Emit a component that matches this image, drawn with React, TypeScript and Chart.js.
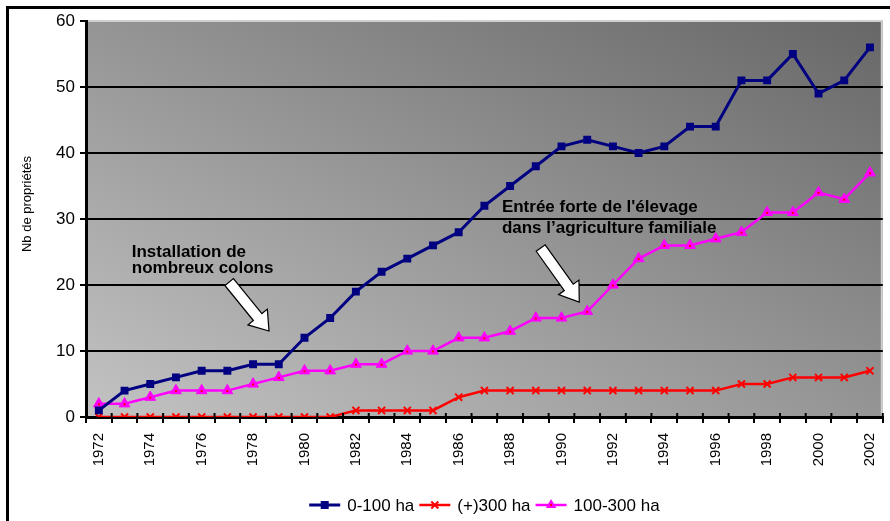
import React, { useEffect, useRef } from 'react';
import { Chart, registerables } from 'chart.js';

Chart.register(...registerables);

const years = ['1972','1973','1974','1975','1976','1977','1978','1979','1980','1981','1982','1983','1984','1985','1986','1987','1988','1989','1990','1991','1992','1993','1994','1995','1996','1997','1998','1999','2000','2001','2002'];
const small = [1,4,5,6,7,7,8,8,12,15,19,22,24,26,28,32,35,38,41,42,41,40,41,44,44,51,51,55,49,51,56];
const large = [0,0,0,0,0,0,0,0,0,0,1,1,1,1,3,4,4,4,4,4,4,4,4,4,4,5,5,6,6,6,7];
const medium = [2,2,3,4,4,4,5,6,7,7,8,8,10,10,12,12,13,15,15,16,20,24,26,26,27,28,31,31,34,33,37];
const seriesNames = ['0-100 ha', '(+)300 ha', '100-300 ha'];
const yTicks = [0, 10, 20, 30, 40, 50, 60];
const yTitle = 'Nb de propriétés';

// annotations anchored in data coordinates (category index, value)
const note1 = { lines: ['Installation de', 'nombreux colons'], x: 1.28, y: [24.24, 21.82] };
const arrow1 = { from: [5.07, 20.45], to: [6.62, 13.03] };
const note2 = { lines: ['Entrée forte de l\'élevage', 'dans l’agriculture familiale'], x: 15.68, y: [31.1, 27.83] };
const arrow2 = { from: [17.19, 25.6], to: [18.69, 17.42] };

const NAVY = '#000080';
const RED = '#FF0000';
const MAGENTA = '#FF00FF';

function drawArrow(ctx: CanvasRenderingContext2D, x1: number, y1: number, x2: number, y2: number) {
  const dx = x2 - x1, dy = y2 - y1;
  const len = Math.hypot(dx, dy);
  const ux = dx / len, uy = dy / len;
  const nx = -uy, ny = ux;
  const sw = 5.5, hw = 12.5, hl = 18;
  const bx = x2 - ux * hl, by = y2 - uy * hl;
  ctx.save();
  ctx.beginPath();
  ctx.moveTo(x1 + nx * sw, y1 + ny * sw);
  ctx.lineTo(bx + nx * sw, by + ny * sw);
  ctx.lineTo(bx + nx * hw, by + ny * hw);
  ctx.lineTo(x2, y2);
  ctx.lineTo(bx - nx * hw, by - ny * hw);
  ctx.lineTo(bx - nx * sw, by - ny * sw);
  ctx.lineTo(x1 - nx * sw, y1 - ny * sw);
  ctx.closePath();
  ctx.fillStyle = '#ffffff';
  ctx.fill();
  ctx.lineWidth = 1.2;
  ctx.strokeStyle = '#000';
  ctx.stroke();
  ctx.restore();
}

function drawMarker(ctx: CanvasRenderingContext2D, kind: string, x: number, y: number, color: string) {
  ctx.save();
  ctx.fillStyle = color;
  ctx.strokeStyle = color;
  if (kind === 'rect') {
    ctx.fillRect(x - 4, y - 4, 8, 8);
  } else if (kind === 'crossRot') {
    ctx.lineWidth = 2;
    ctx.beginPath();
    ctx.moveTo(x - 3.5, y - 3.5); ctx.lineTo(x + 3.5, y + 3.5);
    ctx.moveTo(x + 3.5, y - 3.5); ctx.lineTo(x - 3.5, y + 3.5);
    ctx.stroke();
  } else {
    const r = 6;
    ctx.beginPath();
    ctx.moveTo(x, y - r);
    ctx.lineTo(x + r * 0.866, y + r * 0.5);
    ctx.lineTo(x - r * 0.866, y + r * 0.5);
    ctx.closePath();
    ctx.fill();
    ctx.fillStyle = RED;
    ctx.fillRect(x - 1, y - 1, 2, 2);
  }
  ctx.restore();
}

const bgPlugin = {
  id: 'bgGradient',
  beforeDraw(chart: any) {
    const { ctx, chartArea: a } = chart;
    if (!a) return;
    ctx.save();
    ctx.translate(a.left, a.top);
    ctx.scale(a.right - a.left, a.bottom - a.top);
    const g = ctx.createLinearGradient(0, 1, 1, 0);
    g.addColorStop(0, '#c3c3c3');
    g.addColorStop(1, '#676767');
    ctx.fillStyle = g;
    ctx.fillRect(0, 0, 1, 1);
    ctx.restore();
    ctx.save();
    ctx.strokeStyle = '#cfcfcf';
    ctx.lineWidth = 2;
    ctx.beginPath();
    ctx.moveTo(a.left, a.top);
    ctx.lineTo(a.right - 1, a.top);
    ctx.lineTo(a.right - 1, a.bottom);
    ctx.stroke();
    ctx.restore();
  },
};

const overlayPlugin = {
  id: 'overlay',
  afterDatasetsDraw(chart: any) {
    const { ctx, chartArea: a } = chart;
    const xs = chart.scales.x, ys = chart.scales.y;
    const px = (i: number) => xs.getPixelForValue(i);
    const py = (v: number) => ys.getPixelForValue(v);
    // small red centres on triangle markers
    ctx.save();
    ctx.fillStyle = RED;
    chart.getDatasetMeta(2).data.forEach((p: any) => ctx.fillRect(p.x - 1, p.y - 0.5, 2, 2));
    ctx.restore();
    // tick marks crossing the x axis upward
    ctx.save();
    ctx.strokeStyle = '#000';
    ctx.lineWidth = 2;
    const half = (px(1) - px(0)) / 2;
    ctx.beginPath();
    for (let i = 0; i <= years.length; i++) {
      const x = px(i) - half;
      ctx.moveTo(x, a.bottom - 4);
      ctx.lineTo(x, a.bottom);
    }
    ctx.stroke();
    ctx.restore();
    ctx.save();
    ctx.fillStyle = '#000';
    ctx.font = 'bold 17px Arial, "Liberation Sans", sans-serif';
    ctx.textAlign = 'left';
    ctx.textBaseline = 'alphabetic';
    [note1, note2].forEach((n) => {
      n.lines.forEach((t, k) => ctx.fillText(t, px(n.x), py(n.y[k])));
    });
    ctx.restore();
    [arrow1, arrow2].forEach((ar) => {
      drawArrow(ctx, px(ar.from[0]), py(ar.from[1]), px(ar.to[0]), py(ar.to[1]));
    });
  },
  afterDraw(chart: any) {
    const { ctx, chartArea: a } = chart;
    // y title
    ctx.save();
    ctx.translate(27, 204);
    ctx.rotate(-Math.PI / 2);
    ctx.font = '13px Arial, "Liberation Sans", sans-serif';
    ctx.fillStyle = '#000';
    ctx.textAlign = 'center';
    ctx.textBaseline = 'middle';
    ctx.fillText(yTitle, 0, 0);
    ctx.restore();
    // legend
    ctx.save();
    ctx.font = '17px Arial, "Liberation Sans", sans-serif';
    ctx.textBaseline = 'middle';
    ctx.textAlign = 'left';
    const lineLen = 31, gapT = 7, gapI = 5;
    const ds = chart.data.datasets;
    const widths = ds.map((d: any) => lineLen + gapT + ctx.measureText(d.label).width);
    const total = widths.reduce((s: number, w: number) => s + w, 0) + gapI * (ds.length - 1);
    let x = (a.left + a.right) / 2 - total / 2;
    const y = 505;
    ds.forEach((d: any, i: number) => {
      ctx.strokeStyle = d.borderColor;
      ctx.lineWidth = d.borderWidth;
      ctx.beginPath();
      ctx.moveTo(x, y);
      ctx.lineTo(x + lineLen, y);
      ctx.stroke();
      drawMarker(ctx, d.pointStyle, x + lineLen / 2, y, d.borderColor);
      ctx.fillStyle = '#000';
      ctx.fillText(d.label, x + lineLen + gapT, y + 1);
      x += widths[i] + gapI;
    });
    ctx.restore();
  },
};

export default function App() {
  const ref = useRef<HTMLCanvasElement>(null);
  useEffect(() => {
    if (!ref.current) return;
    const chart = new Chart(ref.current, {
      type: 'line',
      data: {
        labels: years,
        datasets: [
          {
            label: seriesNames[0], data: small, borderColor: NAVY, backgroundColor: NAVY,
            borderWidth: 3, pointStyle: 'rect', pointRadius: 5.6, pointBorderWidth: 0, pointBackgroundColor: NAVY, tension: 0,
          },
          {
            label: seriesNames[1], data: large, borderColor: RED, backgroundColor: RED,
            borderWidth: 2.5, pointStyle: 'crossRot', pointRadius: 5, pointBorderWidth: 2, tension: 0,
          },
          {
            label: seriesNames[2], data: medium, borderColor: MAGENTA, backgroundColor: MAGENTA,
            borderWidth: 2.5, pointStyle: 'triangle', pointRadius: 6.2, pointBorderWidth: 1, pointBackgroundColor: MAGENTA, tension: 0,
          },
        ],
      },
      options: {
        animation: false,
        responsive: false,
        events: [],
        layout: { padding: { top: 21, right: 3, left: 0, bottom: 0 } },
        plugins: { legend: { display: false }, tooltip: { enabled: false }, title: { display: false } },
        scales: {
          x: {
            type: 'category',
            offset: true,
            grid: { offset: true, drawOnChartArea: false, drawTicks: true, tickLength: 6, color: '#000', tickColor: '#000', lineWidth: 2 },
            border: { color: '#000', width: 3 },
            ticks: {
              autoSkip: false, minRotation: 90, maxRotation: 90, padding: 10, color: '#000',
              font: { family: 'Arial, "Liberation Sans", sans-serif', size: 15 },
              callback: (_v: any, i: number) => (i % 2 === 0 ? years[i] : ''),
            },
            afterFit: (s: any) => { s.height = 104; s.paddingLeft = 0; s.paddingRight = 0; },
          },
          y: {
            min: yTicks[0],
            max: yTicks[yTicks.length - 1],
            ticks: { stepSize: 10, padding: 5, color: '#000', font: { family: 'Arial, "Liberation Sans", sans-serif', size: 17 } },
            grid: {
              color: (c: any) => (c.tick && c.tick.value === 60 ? 'rgba(0,0,0,0)' : '#000'),
              tickColor: '#000', lineWidth: 2, tickLength: 6, drawTicks: true,
            },
            border: { color: '#000', width: 3 },
            afterFit: (s: any) => { s.width = 86; s.paddingTop = 0; s.paddingBottom = 0; },
          },
        },
      },
      plugins: [bgPlugin, overlayPlugin],
    } as any);
    return () => chart.destroy();
  }, []);
  return (
    <div style={{ position: 'absolute', left: 0, top: 0, width: 890, height: 521, background: '#fff' }}>
      <div style={{ position: 'absolute', left: 6, top: 6, width: 884, height: 515, borderTop: '3px solid #000', borderLeft: '3px solid #000', boxSizing: 'border-box' }} />
      <canvas ref={ref} width={890} height={521} style={{ position: 'absolute', left: 0, top: 0, display: 'block' }} />
    </div>
  );
}
